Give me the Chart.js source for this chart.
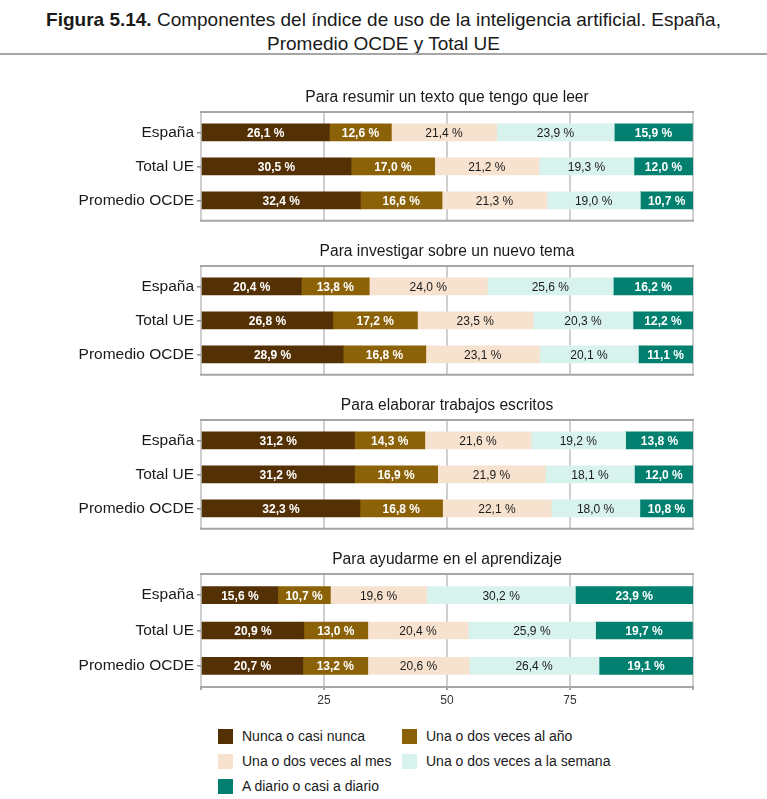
<!DOCTYPE html>
<html lang="es">
<head>
<meta charset="utf-8">
<script src="https://cdn.jsdelivr.net/npm/chart.js@4.4.1/dist/chart.umd.min.js"></script>
<style>
  html, body { margin: 0; padding: 0; background: #fff; overflow: hidden; }
  body { width: 767px; height: 799px; font-family: "Liberation Sans", Arial, sans-serif; color: #1a1a1a; }
  .header { position: relative; height: 79px; }
  .header h1 { margin: 0; padding-top: 8px; font-size: 19px; font-weight: normal; line-height: 24px; text-align: center; }
  .header h1 b { font-weight: bold; }
  .header .rule { position: absolute; left: 0; right: 0; top: 53px; height: 2px; background: #a6a6a6; }
  .panel { position: relative; width: 767px; height: 154px; }
  .panel.last { height: 172px; }
  .legend { position: relative; display: grid; grid-template-columns: 184px 240px; row-gap: 7px; padding: 14px 0 0 218px; font-size: 14px; }
  .legend div { display: flex; align-items: center; height: 18px; }
  .legend span.box { display: inline-block; width: 15px; height: 15px; margin-right: 9px; }
</style>
</head>
<body>
<div class="header">
  <h1><b>Figura 5.14.</b> Componentes del índice de uso de la inteligencia artificial. España,<br>Promedio OCDE y Total UE</h1>
  <div class="rule"></div>
</div>
<div id="panels"></div>
<div class="legend" id="legend"></div>

<script>
// categories, panel titles and series
const categories = ['España', 'Total UE', 'Promedio OCDE'];
const panelTitles = [
  'Para resumir un texto que tengo que leer',
  'Para investigar sobre un nuevo tema',
  'Para elaborar trabajos escritos',
  'Para ayudarme en el aprendizaje'
];
const seriesNames = [
  'Nunca o casi nunca',
  'Una o dos veces al año',
  'Una o dos veces al mes',
  'Una o dos veces a la semana',
  'A diario o casi a diario'
];
const seriesColors = ['#543005', '#8c6209', '#f6e2cf', '#d8f2ee', '#01806f'];
const labelColors = ['#ffffff', '#ffffff', '#1a1a1a', '#1a1a1a', '#ffffff'];

// values per panel: [España, Total UE, Promedio OCDE]
const nuncaCasiNunca = [[26.1, 30.5, 32.4], [20.4, 26.8, 28.9], [31.2, 31.2, 32.3], [15.6, 20.9, 20.7]];
const vecesAlAno     = [[12.6, 17.0, 16.6], [13.8, 17.2, 16.8], [14.3, 16.9, 16.8], [10.7, 13.0, 13.2]];
const vecesAlMes     = [[21.4, 21.2, 21.3], [24.0, 23.5, 23.1], [21.6, 21.9, 22.1], [19.6, 20.4, 20.6]];
const vecesSemana    = [[23.9, 19.3, 19.0], [25.6, 20.3, 20.1], [19.2, 18.1, 18.0], [30.2, 25.9, 26.4]];
const aDiario        = [[15.9, 12.0, 10.7], [16.2, 12.2, 11.1], [13.8, 12.0, 10.8], [23.9, 19.7, 19.1]];
const xTicks = [0, 25, 50, 75, 100];

const allSeries = [nuncaCasiNunca, vecesAlAno, vecesAlMes, vecesSemana, aDiario];
// categories sit at 1, 2, 3 on a linear axis so the panel can keep ggplot-like 0.6 margins
const catPos = categories.map((c, i) => i + 1);
const FONT = '"Liberation Sans", Arial, sans-serif';

// panel title centred over the plot, plus top and bottom frame lines
const panelFrame = {
  id: 'panelFrame',
  beforeDatasetsDraw(chart, args, opts) {
    const { ctx, chartArea: a } = chart;
    ctx.save();
    ctx.strokeStyle = '#a6a6a6';
    ctx.lineWidth = 2;
    ctx.beginPath();
    ctx.moveTo(a.left - 1, a.top);
    ctx.lineTo(a.right + 1, a.top);
    ctx.moveTo(a.left - 1, a.bottom);
    ctx.lineTo(a.right + 1, a.bottom);
    ctx.stroke();
    ctx.fillStyle = '#1a1a1a';
    ctx.font = '15.6px ' + FONT;
    ctx.textAlign = 'center';
    ctx.textBaseline = 'alphabetic';
    ctx.fillText(opts.text, (a.left + a.right) / 2, a.top - 10);
    ctx.restore();
  }
};

// value labels in the middle of each segment
const segmentLabels = {
  id: 'segmentLabels',
  afterDatasetsDraw(chart) {
    const ctx = chart.ctx;
    ctx.save();
    ctx.textAlign = 'center';
    ctx.textBaseline = 'middle';
    chart.data.datasets.forEach((ds, i) => {
      const meta = chart.getDatasetMeta(i);
      const dark = labelColors[i] === '#ffffff';
      ctx.font = (dark ? 'bold ' : '') + '12px ' + FONT;
      ctx.fillStyle = labelColors[i];
      meta.data.forEach((bar, j) => {
        const p = bar.getProps(['x', 'base', 'y'], true);
        const txt = ds.data[j].toFixed(1).replace('.', ',') + ' %';
        ctx.fillText(txt, (p.x + p.base) / 2, p.y + 1);
      });
    });
    ctx.restore();
  }
};

const panelsEl = document.getElementById('panels');

panelTitles.forEach((title, k) => {
  const last = k === panelTitles.length - 1;
  const wrap = document.createElement('div');
  wrap.className = 'panel' + (last ? ' last' : '');
  const canvas = document.createElement('canvas');
  wrap.appendChild(canvas);
  panelsEl.appendChild(wrap);

  new Chart(canvas.getContext('2d'), {
    type: 'bar',
    data: {
      labels: catPos,
      datasets: allSeries.map((s, i) => ({
        label: seriesNames[i],
        data: s[k],
        backgroundColor: seriesColors[i],
        borderWidth: 0,
        barThickness: 17
      }))
    },
    options: {
      indexAxis: 'y',
      responsive: true,
      maintainAspectRatio: false,
      animation: false,
      layout: { padding: { top: 33, bottom: last ? 2.6 : 5, left: 0, right: 74 } },
      plugins: {
        legend: { display: false },
        tooltip: { enabled: false },
        title: { display: false },
        panelFrame: { text: title }
      },
      scales: {
        x: {
          stacked: true,
          min: 0,
          max: 100,
          afterBuildTicks: axis => { axis.ticks = xTicks.map(v => ({ value: v })); },
          grid: {
            color: '#cfcfcf',
            lineWidth: 2,
            drawTicks: last,
            tickLength: 3,
            tickColor: '#8c8c8c',
            tickWidth: 1.5
          },
          border: { display: last, color: '#8c8c8c', width: 1.5 },
          ticks: {
            display: last,
            padding: 3,
            color: '#333',
            font: { family: FONT, size: 12 },
            callback: v => (v === 0 || v === 100) ? '' : v
          }
        },
        y: {
          type: 'linear',
          stacked: true,
          reverse: true,
          offset: false,
          min: 0.4,
          max: categories.length + 0.6,
          afterBuildTicks: axis => { axis.ticks = catPos.map(v => ({ value: v })); },
          afterFit: axis => { axis.width = 201; },
          grid: {
            drawOnChartArea: false,
            offset: false,
            tickLength: 4,
            color: '#8c8c8c',
            lineWidth: 1.5
          },
          border: { display: false },
          ticks: {
            padding: 3,
            color: '#1a1a1a',
            font: { family: FONT, size: 15.5 },
            callback: v => categories[v - 1]
          }
        }
      }
    },
    plugins: [panelFrame, segmentLabels]
  });
});

// legend built from the same series
const legendEl = document.getElementById('legend');
seriesNames.forEach((name, i) => {
  const item = document.createElement('div');
  item.innerHTML = '<span class="box" style="background:' + seriesColors[i] + '"></span>' + name;
  legendEl.appendChild(item);
});
</script>
</body>
</html>
